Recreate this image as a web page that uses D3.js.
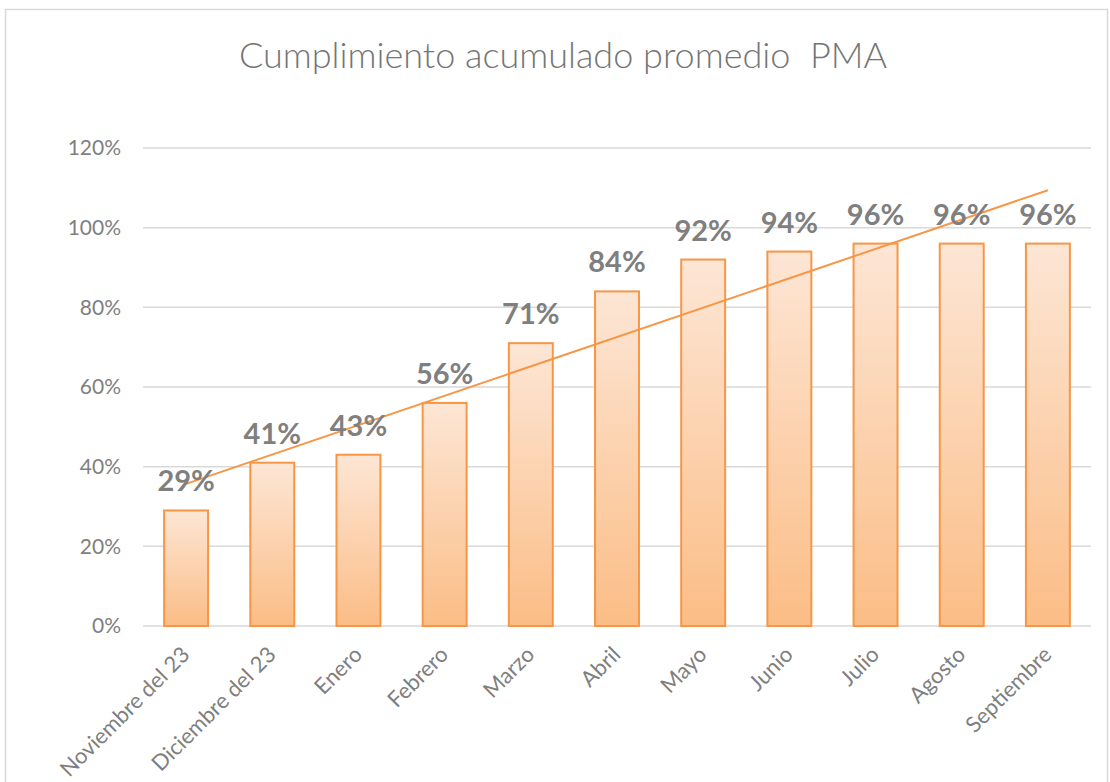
<!DOCTYPE html>
<html>
<head>
<meta charset="utf-8">
<script src="https://cdn.jsdelivr.net/npm/d3@7.9.0/dist/d3.min.js"></script>
<style>
  body { margin: 0; background: #fff; }
  svg { display: block; font-family: Lato, 'Open Sans', sans-serif; }
</style>
</head>
<body>
<svg id="chart" width="1110" height="782"></svg>
<script>
const months = ['Noviembre del 23', 'Diciembre del 23', 'Enero', 'Febrero', 'Marzo', 'Abril',
  'Mayo', 'Junio', 'Julio', 'Agosto', 'Septiembre'];
const compliance = [29, 41, 43, 56, 71, 84, 92, 94, 96, 96, 96];
const yTicks = [0, 20, 40, 60, 80, 100, 120];
const title = 'Cumplimiento acumulado promedio  PMA';

const svg = d3.select('#chart');
const margin = { left: 143, right: 19, top: 148, bottom: 156 };
const width = 1110, height = 782;

// chart frame
svg.append('rect')
  .attr('x', 5.5).attr('y', 9.5)
  .attr('width', width - 8).attr('height', height)
  .attr('fill', 'none').attr('stroke', '#d9d9d9').attr('stroke-width', 1.5);

const x = d3.scaleBand()
  .domain(months)
  .range([margin.left, width - margin.right])
  .paddingInner(0.49).paddingOuter(0.245);

const y = d3.scaleLinear()
  .domain([0, 120])
  .range([height - margin.bottom, margin.top]);

const defs = svg.append('defs');
const grad = defs.append('linearGradient')
  .attr('id', 'barFill').attr('x1', 0).attr('y1', 0).attr('x2', 0).attr('y2', 1);
grad.append('stop').attr('offset', '0%').attr('stop-color', '#fde6d5');
grad.append('stop').attr('offset', '100%').attr('stop-color', '#fbbd86');

// gridlines
svg.append('g')
  .selectAll('line')
  .data(yTicks)
  .join('line')
  .attr('x1', margin.left).attr('x2', width - margin.right)
  .attr('y1', d => y(d)).attr('y2', d => y(d))
  .attr('stroke', '#d9d9d9').attr('stroke-width', 1.5);

// y tick labels
svg.append('g')
  .selectAll('text')
  .data(yTicks)
  .join('text')
  .attr('x', 121).attr('y', d => y(d))
  .attr('dy', '0.35em')
  .attr('text-anchor', 'end')
  .attr('fill', '#7f7f7f')
  .attr('font-size', 21)
  .text(d => d + '%');

// bars
svg.append('g')
  .selectAll('rect')
  .data(compliance)
  .join('rect')
  .attr('x', (d, i) => x(months[i]))
  .attr('y', d => y(d))
  .attr('width', x.bandwidth())
  .attr('height', d => y(0) - y(d))
  .attr('fill', 'url(#barFill)')
  .attr('stroke', '#f79646').attr('stroke-width', 2);

// linear trendline
const idx = compliance.map((d, i) => i);
const mx = d3.mean(idx), my = d3.mean(compliance);
const slope = d3.sum(idx, i => (i - mx) * (compliance[i] - my)) / d3.sum(idx, i => (i - mx) ** 2);
const trend = i => my + slope * (i - mx);
const cx = i => x(months[i]) + x.bandwidth() / 2;
const first = 0, last = months.length - 1;
svg.append('line')
  .attr('x1', cx(first)).attr('y1', y(trend(first)))
  .attr('x2', cx(last)).attr('y2', y(trend(last)))
  .attr('stroke', '#f79646').attr('stroke-width', 2);

// data labels
svg.append('g')
  .selectAll('text')
  .data(compliance)
  .join('text')
  .attr('x', (d, i) => cx(i))
  .attr('y', d => y(d) - 19)
  .attr('text-anchor', 'middle')
  .attr('fill', '#7f7f7f')
  .attr('font-size', 29)
  .attr('font-weight', 'bold')
  .text(d => d + '%');

// x labels
svg.append('g')
  .selectAll('text')
  .data(months)
  .join('text')
  .attr('transform', d => `translate(${x(d) + x.bandwidth() / 2 + 5},${y(0) + 30}) rotate(-45)`)
  .attr('text-anchor', 'end')
  .attr('fill', '#7f7f7f')
  .attr('font-size', 22)
  .text(d => d);

// title
svg.append('text')
  .attr('x', 563).attr('y', 68)
  .attr('text-anchor', 'middle')
  .attr('fill', '#757575')
  .attr('font-size', 36)
  .attr('font-weight', 300)
  .style('white-space', 'pre')
  .text(title);
</script>
</body>
</html>
